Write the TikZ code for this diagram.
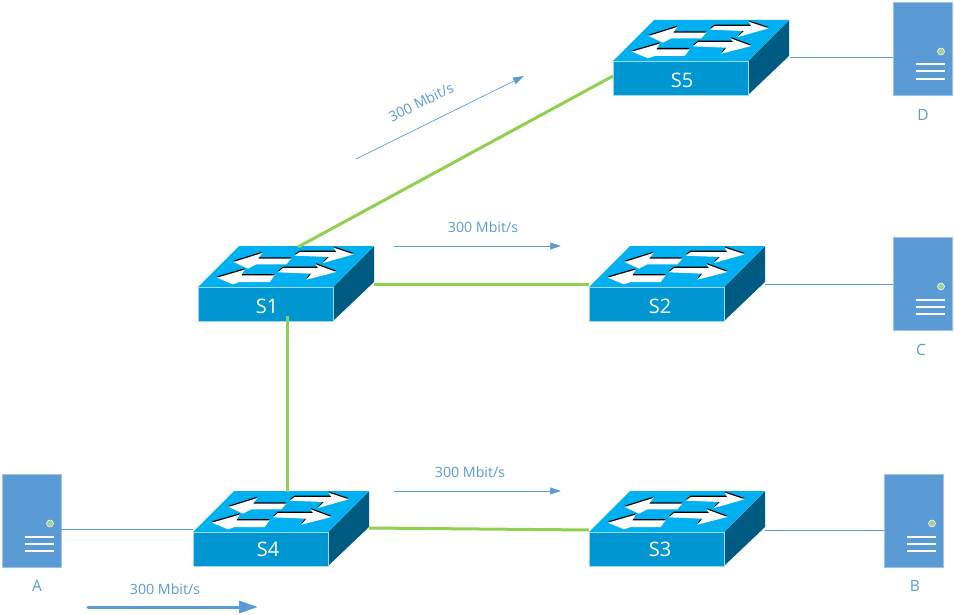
\documentclass[tikz,border=0pt]{standalone}
\usepackage{fontspec}
\setmainfont{Open Sans}
\usetikzlibrary{arrows.meta}
\definecolor{swtop}{HTML}{00B0F0}
\definecolor{swfront}{HTML}{0096D2}
\definecolor{swside}{HTML}{005B82}
\definecolor{srv}{HTML}{5B9BD5}
\definecolor{srvdot}{HTML}{A9D18E}
\definecolor{lnk}{HTML}{8FD14F}
\definecolor{edgeblue}{HTML}{9DD9F3}
\newcommand{\swarrows}[1]{%
  \fill[#1] (132,65) -- (218,38) -- (205,55) -- (305,55) -- (290,72) -- (200,72) -- (175,85) -- cycle;
  \fill[#1] (315,46) -- (330,35) -- (440,35) -- (432,22) -- (492,42) -- (400,68) -- (418,50) -- cycle;
  \fill[#1] (82,112) -- (165,88) -- (155,105) -- (255,105) -- (240,125) -- (150,125) -- (130,132) -- cycle;
  \fill[#1] (265,96) -- (280,83) -- (385,83) -- (378,72) -- (440,95) -- (350,118) -- (365,100) -- cycle;
}
\tikzset{
  x=1pt,y=-1pt,
  greenlink/.style={draw=lnk,line width=3pt},
  hostlink/.style={draw=srv,line width=0.8pt},
  flowarrow/.style={draw=srv,line width=0.7pt,-{Triangle[length=11pt,width=7pt]}},
  flowbig/.style={draw=srv,line width=3pt,line cap=round,-{Triangle[length=19pt,width=12pt]}},
  lbl/.style={text=srv,font=\fontsize{14.2}{16}\selectfont,inner sep=0pt},
  hostlbl/.style={text=srv,font=\fontsize{15.5}{17}\selectfont,inner sep=0pt},
  swlabel/.style={text=white,font=\fontsize{20}{22}\selectfont,inner sep=0pt},
  hostbox/.style={fill=srv,draw=srv!60,line width=0.4pt,minimum width=59pt,minimum height=93pt,inner sep=0pt,outer sep=0pt},
  swfrontbox/.style={fill=swfront,draw=edgeblue,line width=0.4pt,minimum width=135pt,minimum height=34pt,inner sep=0pt,outer sep=0pt,anchor=north west},
  pics/switchbody/.style={code={
    \fill[swside] (135,0) -- (176,-41) -- (176,-5) -- (135,34) -- cycle;
    \fill[swtop] (0,0) -- (41,-41) -- (176,-41) -- (135,0) -- cycle;
    \begin{scope}[scale=0.3333,shift={(-25,-140)}]
      \begin{scope}[shift={(0,-4)}]\swarrows{black}\end{scope}
      \swarrows{white}
    \end{scope}
  }},
}
\newcommand{\hostdetail}[1]{%
  \fill[srvdot,draw=white,line width=0.5pt] ([xshift=18.5pt,yshift=-3pt]#1.center) circle (3.5pt);
  \foreach \off in {16,23,30.5}{
    \draw[white,line width=2pt] ([xshift=-7pt,yshift=-\off pt]#1.center) -- ([xshift=22.5pt,yshift=-\off pt]#1.center);
  }%
}
\begin{document}
\begin{tikzpicture}
\useasboundingbox (0,0) rectangle (954,615);
\fill[white] (0,0) rectangle (954,615);

% switches
\pic at (198,287) {switchbody};
\node[swfrontbox] (S1) at (198,287) {};
\node[swlabel] at (267,306) {S1};
\pic at (589,287) {switchbody};
\node[swfrontbox] (S2) at (589,287) {};
\node[swlabel] at (660,306) {S2};
\pic at (589,532) {switchbody};
\node[swfrontbox] (S3) at (589,532) {};
\node[swlabel] at (660,549) {S3};
\pic at (193,532) {switchbody};
\node[swfrontbox] (S4) at (193,532) {};
\node[swlabel] at (268,549) {S4};
\pic at (613,61) {switchbody};
\node[swfrontbox] (S5) at (613,61) {};
\node[swlabel] at (682,80) {S5};

% hosts
\node[hostbox] (A) at (31.5,520.5) {};
\node[hostbox] (B) at (913.5,520.5) {};
\node[hostbox] (C) at (922.5,283.5) {};
\node[hostbox] (D) at (922.5,48.5) {};
\hostdetail{A}\hostdetail{B}\hostdetail{C}\hostdetail{D}
\node[hostlbl] (la) at (37,586) {A};
\node[hostlbl] (lb) at (915,586) {B};
\node[hostlbl] (lc) at (921,350) {C};
\node[hostlbl] (ld) at (923,115) {D};

% anchor points on the switches
\coordinate (S1up) at (298,247);
\coordinate (S1right) at (374,284);
\coordinate (S1down) at (287,316);
\coordinate (S2left) at (589,284);
\coordinate (S3left) at (589,530);
\coordinate (S3right) at (765,530);
\coordinate (S2right) at (765,284);
\coordinate (S4up) at (287,492);
\coordinate (S4right) at (369,528);
\coordinate (S4left) at (193,529);
\coordinate (S5left) at (613,76);
\coordinate (S5right) at (790,57);

% links
\draw[greenlink] (S1up) -- (S5left);
\draw[greenlink] (S1right) -- (S2left);
\draw[greenlink] (S1down) -- (S4up);
\draw[greenlink] (S4right) -- (S3left);
\draw[hostlink] (A.east |- S4left) -- (S4left);
\draw[hostlink] (S3right) -- (B.west |- S3right);
\draw[hostlink] (S2right) -- (C.west |- S2right);
\draw[hostlink] (S5right) -- (D.west |- S5right);

% flow arrows
\coordinate (f1a) at (356,159); \coordinate (f1b) at (524,76);
\coordinate (f2a) at (394,246); \coordinate (f2b) at (561,246);
\coordinate (f3a) at (394,491); \coordinate (f3b) at (561,491);
\coordinate (f4a) at (88,607);  \coordinate (f4b) at (258,607);
\draw[flowarrow] (f1a) -- (f1b);
\draw[flowarrow] (f2a) -- (f2b);
\draw[flowarrow] (f3a) -- (f3b);
\draw[flowbig] (f4a) -- (f4b);
\node[lbl,rotate=26] (t1) at (421,102) {300 Mbit/s};
\node[lbl] (t2) at (483,227) {300 Mbit/s};
\node[lbl] (t3) at (470,472) {300 Mbit/s};
\node[lbl] (t4) at (165,589) {300 Mbit/s};
\end{tikzpicture}
\end{document}
